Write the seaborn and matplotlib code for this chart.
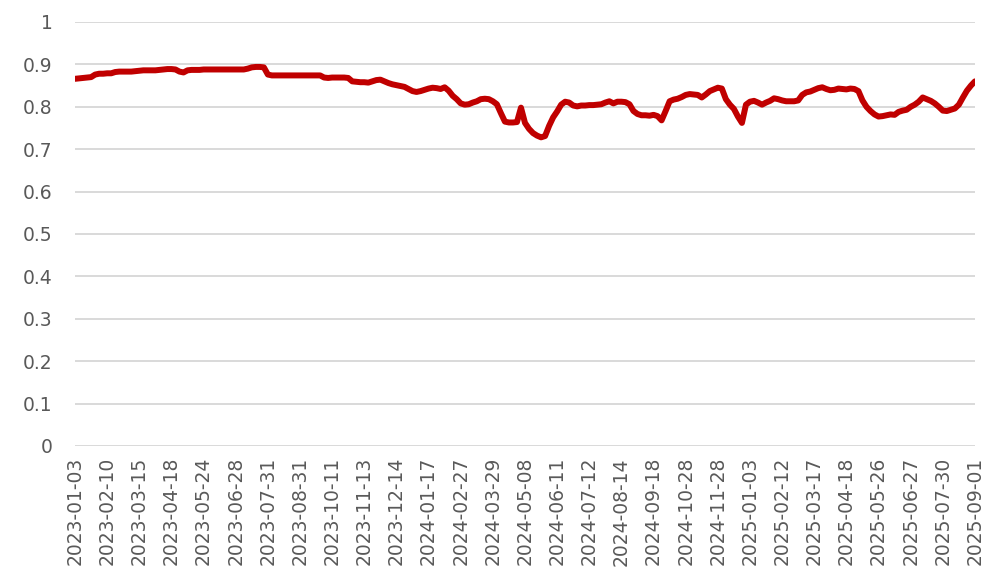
import matplotlib
matplotlib.use("Agg")
import matplotlib.pyplot as plt
import numpy as np
import pandas as pd
import seaborn as sns

# x-axis category labels (one every 23 trading days in the source chart)
tick_labels = [
    "2023-01-03", "2023-02-10", "2023-03-15", "2023-04-18", "2023-05-24",
    "2023-06-28", "2023-07-31", "2023-08-31", "2023-10-11", "2023-11-13",
    "2023-12-14", "2024-01-17", "2024-02-27", "2024-03-29", "2024-05-08",
    "2024-06-11", "2024-07-12", "2024-08-14", "2024-09-18", "2024-10-28",
    "2024-11-28", "2025-01-03", "2025-02-12", "2025-03-17", "2025-04-18",
    "2025-05-26", "2025-06-27", "2025-07-30", "2025-09-01",
]

# series values, 8 readings between consecutive tick labels
SAMPLES_PER_TICK = 8
values = [
    0.866, 0.867, 0.868, 0.869, 0.870, 0.876, 0.878, 0.878,  # 2023-01-03
    0.879, 0.879, 0.882, 0.883, 0.883, 0.883, 0.883, 0.884,  # 2023-02-10
    0.885, 0.886, 0.886, 0.886, 0.886, 0.887, 0.888, 0.889,  # 2023-03-15
    0.889, 0.888, 0.883, 0.881, 0.886, 0.887, 0.887, 0.887,  # 2023-04-18
    0.888, 0.888, 0.888, 0.888, 0.888, 0.888, 0.888, 0.888,  # 2023-05-24
    0.888, 0.888, 0.888, 0.890, 0.893, 0.894, 0.894, 0.893,  # 2023-06-28
    0.876, 0.874, 0.874, 0.874, 0.874, 0.874, 0.874, 0.874,  # 2023-07-31
    0.874, 0.874, 0.874, 0.874, 0.874, 0.874, 0.869, 0.868,  # 2023-08-31
    0.869, 0.869, 0.869, 0.869, 0.868, 0.860, 0.859, 0.858,  # 2023-10-11
    0.858, 0.857, 0.860, 0.863, 0.864, 0.860, 0.856, 0.853,  # 2023-11-13
    0.851, 0.849, 0.847, 0.842, 0.837, 0.835, 0.837, 0.840,  # 2023-12-14
    0.843, 0.845, 0.844, 0.842, 0.846, 0.838, 0.826, 0.818,  # 2024-01-17
    0.808, 0.805, 0.806, 0.810, 0.813, 0.818, 0.819, 0.818,  # 2024-02-27
    0.813, 0.806, 0.785, 0.765, 0.763, 0.763, 0.764, 0.798,  # 2024-03-29
    0.762, 0.748, 0.738, 0.732, 0.728, 0.731, 0.755, 0.775,  # 2024-05-08
    0.789, 0.805, 0.812, 0.810, 0.803, 0.801, 0.803, 0.803,  # 2024-06-11
    0.804, 0.804, 0.805, 0.806, 0.810, 0.813, 0.808, 0.812,  # 2024-07-12
    0.812, 0.811, 0.806, 0.790, 0.783, 0.780, 0.780, 0.779,  # 2024-08-14
    0.781, 0.778, 0.768, 0.790, 0.813, 0.817, 0.819, 0.823,  # 2024-09-18
    0.828, 0.830, 0.829, 0.828, 0.822, 0.829, 0.837, 0.841,  # 2024-10-28
    0.845, 0.843, 0.818, 0.805, 0.795, 0.777, 0.762, 0.805,  # 2024-11-28
    0.812, 0.814, 0.810, 0.805, 0.810, 0.814, 0.820, 0.818,  # 2025-01-03
    0.815, 0.813, 0.813, 0.813, 0.815, 0.828, 0.834, 0.836,  # 2025-02-12
    0.840, 0.844, 0.846, 0.842, 0.839, 0.840, 0.843, 0.842,  # 2025-03-17
    0.841, 0.843, 0.842, 0.837, 0.815, 0.800, 0.790, 0.782,  # 2025-04-18
    0.777, 0.778, 0.780, 0.782, 0.781, 0.788, 0.791, 0.793,  # 2025-05-26
    0.800, 0.805, 0.812, 0.822, 0.818, 0.814, 0.808, 0.800,  # 2025-06-27
    0.791, 0.790, 0.793, 0.796, 0.805, 0.822, 0.838, 0.850,  # 2025-07-30
    0.860,                                                   # 2025-09-01
]

y_ticks = [0, 0.1, 0.2, 0.3, 0.4, 0.5, 0.6, 0.7, 0.8, 0.9, 1]
y_tick_labels = ["0", "0.1", "0.2", "0.3", "0.4", "0.5", "0.6", "0.7", "0.8", "0.9", "1"]

LINE_COLOR = "#C00000"
TEXT_COLOR = "#595959"
GRID_COLOR = "#D9D9D9"

sns.set_style("white")
plt.rcParams["font.family"] = ["DejaVu Sans"]

df = pd.DataFrame({"pos": np.arange(len(values)), "value": values})

fig = plt.figure(figsize=(9.9, 5.88), dpi=100)
ax = fig.add_axes([0.0758, 0.2415, 0.909, 0.7211])

sns.lineplot(data=df, x="pos", y="value", color=LINE_COLOR, linewidth=4.3,
             ax=ax, zorder=3)

ax.set_xlim(0, len(values) - 1)
ax.set_ylim(0, 1)
ax.set_yticks(y_ticks)
ax.set_yticklabels(y_tick_labels)
ax.set_xticks(np.arange(0, len(values), SAMPLES_PER_TICK))
ax.set_xticklabels(tick_labels, rotation=90)

ax.yaxis.grid(True, color=GRID_COLOR, linewidth=1.4, zorder=0)
ax.xaxis.grid(False)
for side in ["top", "right", "bottom", "left"]:
    ax.spines[side].set_visible(False)

ax.tick_params(axis="both", length=0, colors=TEXT_COLOR, labelsize=13.5)
ax.tick_params(axis="x", pad=8)
ax.tick_params(axis="y", pad=16)
ax.set_xlabel("")
ax.set_ylabel("")

fig.savefig("out.png", dpi=100)
plt.close(fig)
